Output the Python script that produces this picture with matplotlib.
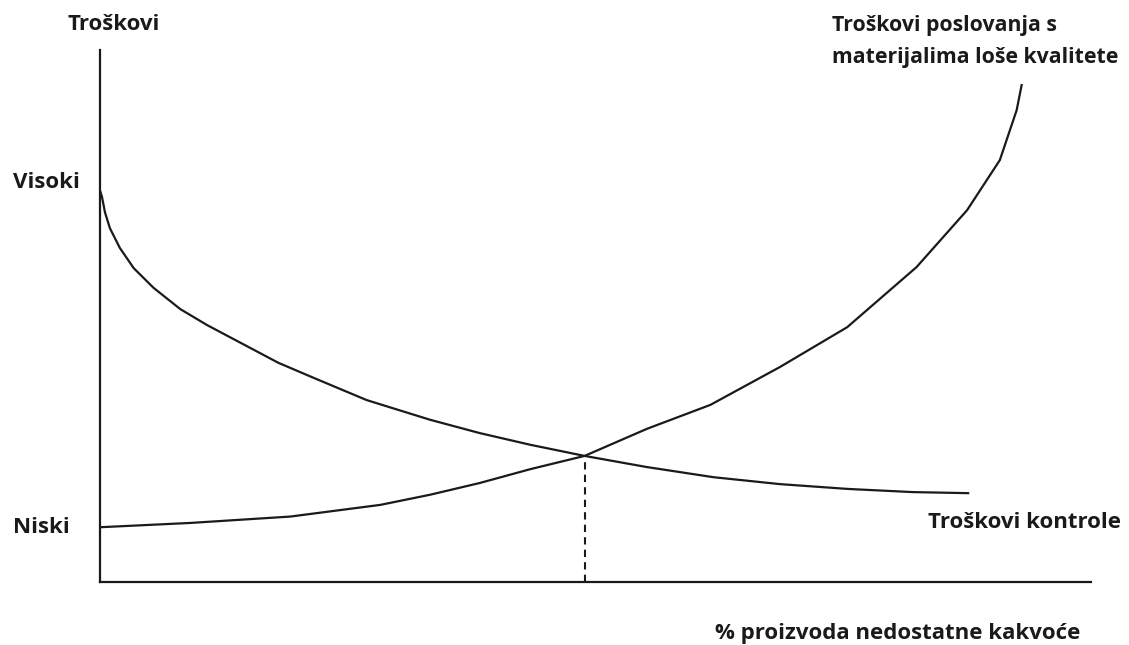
import matplotlib.pyplot as plt
from matplotlib.transforms import blended_transform_factory

plt.rcParams.update({
    'font.family': ['Open Sans', 'DejaVu Sans'],
    'font.weight': 'bold',
    'font.size': 16,
})

# Troškovi kontrole (padajuća krivulja), očitano s crteža
kontrola_x = [0.05, 0.2, 0.5, 1.0, 2.0, 3.4, 5.4, 8.1, 10.8, 18.0, 21.4, 26.9,
              33.3, 38.3, 43.4, 48.9, 55.2, 61.9, 68.6, 75.4, 82.0, 87.6]
kontrola_y = [73.3, 72.4, 69.5, 66.5, 62.8, 59.0, 55.3, 51.3, 48.3, 41.2, 38.5,
              34.2, 30.5, 28.0, 25.8, 23.7, 21.6, 19.7, 18.4, 17.5, 16.9, 16.7]

# Troškovi poslovanja s materijalima loše kvalitete (rastuća krivulja)
losi_x = [0.05, 9.1, 19.2, 28.3, 33.3, 38.3, 43.4, 48.9, 55.2, 61.6, 68.6,
          75.4, 82.4, 87.5, 90.8, 92.5, 93.0]
losi_y = [10.3, 11.1, 12.3, 14.5, 16.4, 18.6, 21.2, 23.7, 28.8, 33.3, 40.4,
          47.9, 59.2, 69.9, 79.3, 88.7, 93.4]

sjeciste = (48.9, 23.7)
razine = {'Visoki': 75.0, 'Niski': 10.3}

W, H = 1129, 645
fig = plt.figure(figsize=(W / 100, H / 100), dpi=100)
ax = fig.add_axes([100 / W, (H - 582) / H, 991 / W, 532 / H])
ax.set_xlim(0, 100)
ax.set_ylim(0, 100)

ax.plot(kontrola_x, kontrola_y, color='#1a1a1a', lw=1.6, clip_on=False,
        solid_joinstyle='round')
ax.plot(losi_x, losi_y, color='#1a1a1a', lw=1.6, clip_on=False,
        solid_joinstyle='round')
ax.plot([sjeciste[0], sjeciste[0]], [0, sjeciste[1]], color='#1a1a1a', lw=1.5,
        linestyle=(0, (3.5, 2.5)))

for s in ['top', 'right']:
    ax.spines[s].set_visible(False)
for s in ['left', 'bottom']:
    ax.spines[s].set_linewidth(1.6)
    ax.spines[s].set_color('#1a1a1a')
ax.set_xticks([])
ax.set_yticks([])

# oznake razina poravnate lijevo uz rub slike
trans = blended_transform_factory(fig.transFigure, ax.transData)
for naziv, y in razine.items():
    ax.text(13 / W, y, naziv, ha='left', va='center', color='#1a1a1a',
            transform=trans)

def ftext(x, y, s, **kw):
    fig.text(x / W, 1 - y / H, s, color='#1a1a1a', va='center', **kw)

ftext(114, 25, 'Troškovi', ha='center')
ftext(832, 25, 'Troškovi poslovanja s', ha='left', fontsize=15.3)
ftext(832, 57, 'materijalima loše kvalitete', ha='left', fontsize=15.3)
ftext(928, 523, 'Troškovi kontrole', ha='left')
ftext(1080, 633, '% proizvoda nedostatne kakvoće', ha='right')

fig.savefig('out.png', dpi=100, facecolor='white')
